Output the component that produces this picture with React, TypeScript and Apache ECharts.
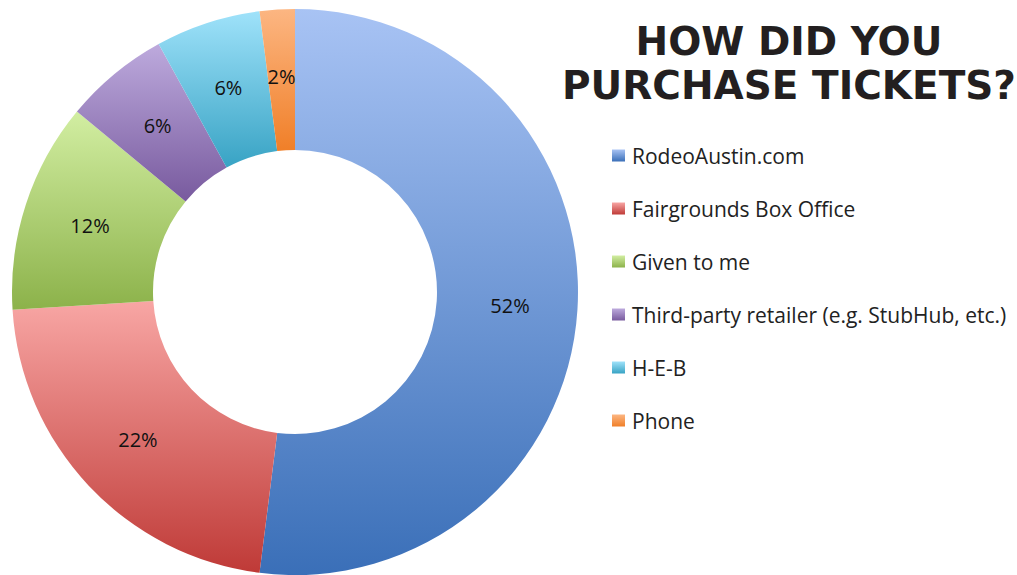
import React, { useEffect, useRef } from "react";
import * as echarts from "echarts";

const categories = [
  "RodeoAustin.com",
  "Fairgrounds Box Office",
  "Given to me",
  "Third-party retailer (e.g. StubHub, etc.)",
  "H-E-B",
  "Phone",
];
const values = [52, 22, 12, 6, 6, 2];
const topColors = ["#a8c3f4", "#f8a6a4", "#d2eea2", "#bdaadd", "#9fe2fa", "#fcb682"];
const bottomColors = ["#3a6fb8", "#bf3a37", "#8cb24a", "#785a9e", "#38a3c4", "#f07f28"];
const titleText = "HOW DID YOU\nPURCHASE TICKETS?";

export default function App() {
  const ref = useRef<HTMLDivElement>(null);
  useEffect(() => {
    if (!ref.current) return;
    const chart = echarts.init(ref.current, null, { renderer: "svg" });
    const data = categories.map((name, i) => ({
      name,
      value: values[i],
      itemStyle: {
        color: {
          type: "linear",
          x: 0,
          y: 0,
          x2: 0,
          y2: 1,
          colorStops: [
            { offset: 0, color: topColors[i] },
            { offset: 1, color: bottomColors[i] },
          ],
        },
      },
    }));
    chart.setOption({
      animation: false,
      backgroundColor: "#ffffff",
      title: {
        text: titleText,
        left: 784,
        top: 14,
        textAlign: "center",
        textStyle: {
          fontFamily: "DejaVu Sans",
          fontWeight: "bold",
          fontSize: 39,
          lineHeight: 44,
          color: "#231f20",
        },
      },
      legend: {
        orient: "vertical",
        left: 607,
        top: 140,
        itemWidth: 13,
        itemHeight: 12,
        itemGap: 32,
        icon: "rect",
        data: categories,
        textStyle: {
          fontFamily: "Open Sans",
          fontSize: 21,
          color: "#222222",
          padding: [0, 0, 0, 2],
        },
      },
      series: [
        {
          type: "pie",
          center: [295, 292],
          radius: [142, 283],
          startAngle: 90,
          clockwise: true,
          avoidLabelOverlap: false,
          label: {
            show: true,
            position: "inside",
            formatter: "{c}%",
            fontFamily: "Open Sans",
            fontSize: 20,
            color: "#111111",
          },
          labelLine: { show: false },
          itemStyle: { borderWidth: 0 },
          emphasis: { disabled: true },
          data,
        },
      ],
    });
    return () => chart.dispose();
  }, []);
  return (
    <div
      ref={ref}
      style={{ position: "fixed", left: 0, top: 0, width: 1017, height: 575, background: "#fff" }}
    />
  );
}
